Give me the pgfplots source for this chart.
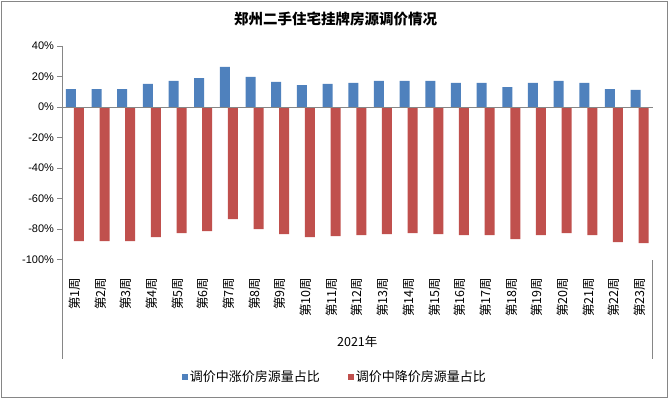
\documentclass[border=0pt]{standalone}
\usepackage{fontspec}
\setmainfont{Liberation Sans}
\newfontfamily\cjk{Noto Sans CJK SC}
\usepackage{pgfplots}
\pgfplotsset{compat=1.18}
\definecolor{upblue}{HTML}{4F81BD}
\definecolor{downred}{HTML}{C0504D}
\definecolor{axgray}{HTML}{868686}
\begin{document}
\begin{tikzpicture}[x=1pt,y=1pt]
\useasboundingbox (0,0) rectangle (669,399);
\draw[axgray, line width=1pt] (1.5,1.5) rectangle (667.5,397.5);
\node[font=\cjk\bfseries\fontsize{14.5}{16}\selectfont] at (335.5,380) {郑州二手住宅挂牌房源调价情况};
\begin{axis}[
  at={(62pt,139.5pt)}, anchor=south west,
  scale only axis, width=590.5pt, height=213.5pt,
  xmin=0.5, xmax=23.5, ymin=-100, ymax=40,
  clip=false,
  axis line style={draw=none},
  ytick={-100,-80,-60,-40,-20,0,20,40},
  ytick pos=left,
  yticklabel={\pgfmathprintnumber{\tick}\%},
  /pgf/number format/assume math mode=true,
  y tick label style={font=\fontsize{11}{12}\selectfont, text=black},
  y tick style={axgray, line width=0.8pt},
  tick align=outside, major tick length=4.5pt,
  xtick={1,...,23},
  xticklabels={第1周,第2周,第3周,第4周,第5周,第6周,第7周,第8周,第9周,第10周,第11周,第12周,第13周,第14周,第15周,第16周,第17周,第18周,第19周,第20周,第21周,第22周,第23周},
  x tick style={draw=none},
  x tick label style={font=\cjk\fontsize{12.5}{13}\selectfont, rotate=90, anchor=east, inner sep=0pt},
  xticklabel shift=13.5pt,
  legend style={at={(0.4623,-0.5504)}, anchor=center, draw=none, fill=none,
    font=\cjk\fontsize{13}{14}\selectfont,
    /tikz/every even column/.append style={column sep=26pt}},
  legend columns=2,
  legend cell align=left,
]
\addplot[ybar, bar width=10pt, bar shift=-4pt, fill=upblue, draw=none,
  legend image code/.code={\fill[upblue] (0pt,-3pt) rectangle (6pt,3pt);}]
  coordinates {(1,11.8) (2,11.8) (3,11.8) (4,15.1) (5,17.1) (6,19.0) (7,26.3) (8,19.7) (9,16.4) (10,14.4) (11,15.1) (12,15.8) (13,17.1) (14,17.1) (15,17.1) (16,15.8) (17,15.8) (18,13.1) (19,15.8) (20,17.1) (21,15.8) (22,11.8) (23,11.2)};
\addlegendentry{调价中涨价房源量占比}
\addplot[ybar, bar width=10pt, bar shift=4pt, fill=downred, draw=none,
  legend image code/.code={\fill[downred] (0pt,-3pt) rectangle (6pt,3pt);}]
  coordinates {(1,-88.0) (2,-88.0) (3,-88.0) (4,-85.3) (5,-82.7) (6,-81.4) (7,-73.5) (8,-80.1) (9,-83.4) (10,-85.3) (11,-84.7) (12,-84.0) (13,-83.4) (14,-82.7) (15,-83.4) (16,-84.0) (17,-84.0) (18,-86.7) (19,-84.0) (20,-82.7) (21,-84.0) (22,-88.6) (23,-89.3)};
\addlegendentry{调价中降价房源量占比}
\draw[axgray, line width=0.8pt] (axis cs:0.5,0) -- (axis cs:23.5,0);
\draw[axgray, line width=0.8pt] (rel axis cs:0,1) -- ([yshift=-99pt]rel axis cs:0,0);
\draw[axgray, line width=0.8pt] ([yshift=-99pt]rel axis cs:1,0) -- (rel axis cs:1,0);
\node[font=\cjk\fontsize{12.5}{13}\selectfont] at ([yshift=-82.5pt]rel axis cs:0.5,0) {2021年};
\end{axis}
\end{tikzpicture}
\end{document}
